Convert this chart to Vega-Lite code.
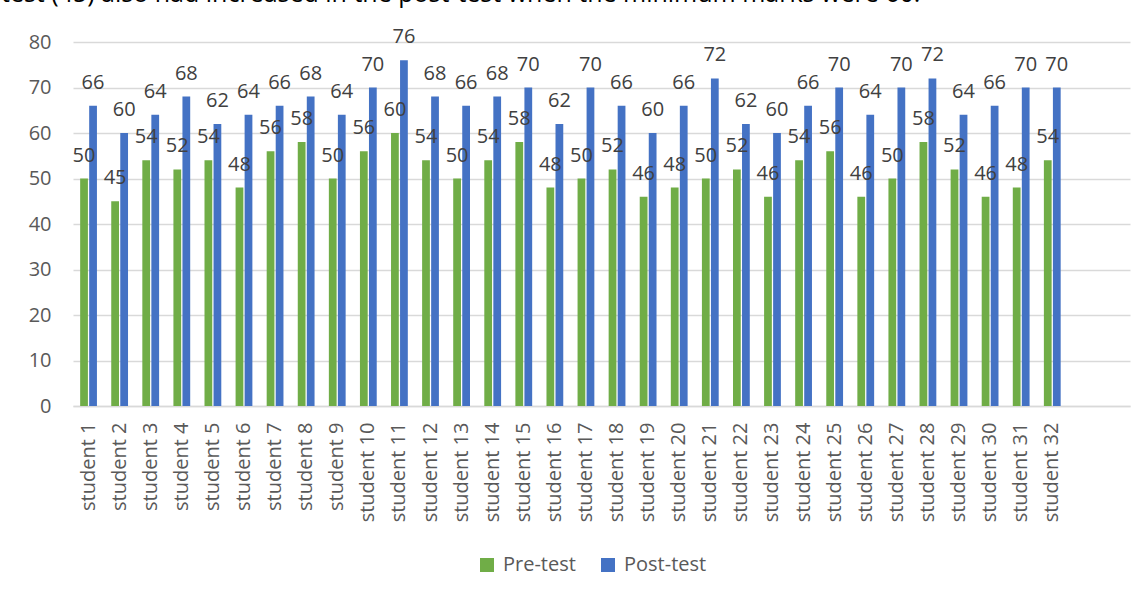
{
  "$schema": "https://vega.github.io/schema/vega-lite/v6.json",
  "width": 1057,
  "height": 364,
  "autosize": {"type": "none"},
  "padding": {"left": 73, "top": 42, "right": 16, "bottom": 192},
  "background": "white",
  "title": {
    "text": "test (45) also had increased in the post-test when the minimum marks were 60.",
    "anchor": "start",
    "frame": "group",
    "fontSize": 25,
    "font": "Open Sans",
    "fontWeight": "normal",
    "color": "#000000",
    "baseline": "alphabetic",
    "dx": -72,
    "offset": 0
  },
  "config": {
    "font": "Open Sans",
    "view": {"stroke": null}
  },
  "data": {
    "values": [
      {"student": "student 1", "test": "Pre-test", "score": 50},
      {"student": "student 2", "test": "Pre-test", "score": 45},
      {"student": "student 3", "test": "Pre-test", "score": 54},
      {"student": "student 4", "test": "Pre-test", "score": 52},
      {"student": "student 5", "test": "Pre-test", "score": 54},
      {"student": "student 6", "test": "Pre-test", "score": 48},
      {"student": "student 7", "test": "Pre-test", "score": 56},
      {"student": "student 8", "test": "Pre-test", "score": 58},
      {"student": "student 9", "test": "Pre-test", "score": 50},
      {"student": "student 10", "test": "Pre-test", "score": 56},
      {"student": "student 11", "test": "Pre-test", "score": 60},
      {"student": "student 12", "test": "Pre-test", "score": 54},
      {"student": "student 13", "test": "Pre-test", "score": 50},
      {"student": "student 14", "test": "Pre-test", "score": 54},
      {"student": "student 15", "test": "Pre-test", "score": 58},
      {"student": "student 16", "test": "Pre-test", "score": 48},
      {"student": "student 17", "test": "Pre-test", "score": 50},
      {"student": "student 18", "test": "Pre-test", "score": 52},
      {"student": "student 19", "test": "Pre-test", "score": 46},
      {"student": "student 20", "test": "Pre-test", "score": 48},
      {"student": "student 21", "test": "Pre-test", "score": 50},
      {"student": "student 22", "test": "Pre-test", "score": 52},
      {"student": "student 23", "test": "Pre-test", "score": 46},
      {"student": "student 24", "test": "Pre-test", "score": 54},
      {"student": "student 25", "test": "Pre-test", "score": 56},
      {"student": "student 26", "test": "Pre-test", "score": 46},
      {"student": "student 27", "test": "Pre-test", "score": 50},
      {"student": "student 28", "test": "Pre-test", "score": 58},
      {"student": "student 29", "test": "Pre-test", "score": 52},
      {"student": "student 30", "test": "Pre-test", "score": 46},
      {"student": "student 31", "test": "Pre-test", "score": 48},
      {"student": "student 32", "test": "Pre-test", "score": 54},
      {"student": "student 1", "test": "Post-test", "score": 66},
      {"student": "student 2", "test": "Post-test", "score": 60},
      {"student": "student 3", "test": "Post-test", "score": 64},
      {"student": "student 4", "test": "Post-test", "score": 68},
      {"student": "student 5", "test": "Post-test", "score": 62},
      {"student": "student 6", "test": "Post-test", "score": 64},
      {"student": "student 7", "test": "Post-test", "score": 66},
      {"student": "student 8", "test": "Post-test", "score": 68},
      {"student": "student 9", "test": "Post-test", "score": 64},
      {"student": "student 10", "test": "Post-test", "score": 70},
      {"student": "student 11", "test": "Post-test", "score": 76},
      {"student": "student 12", "test": "Post-test", "score": 68},
      {"student": "student 13", "test": "Post-test", "score": 66},
      {"student": "student 14", "test": "Post-test", "score": 68},
      {"student": "student 15", "test": "Post-test", "score": 70},
      {"student": "student 16", "test": "Post-test", "score": 62},
      {"student": "student 17", "test": "Post-test", "score": 70},
      {"student": "student 18", "test": "Post-test", "score": 66},
      {"student": "student 19", "test": "Post-test", "score": 60},
      {"student": "student 20", "test": "Post-test", "score": 66},
      {"student": "student 21", "test": "Post-test", "score": 72},
      {"student": "student 22", "test": "Post-test", "score": 62},
      {"student": "student 23", "test": "Post-test", "score": 60},
      {"student": "student 24", "test": "Post-test", "score": 66},
      {"student": "student 25", "test": "Post-test", "score": 70},
      {"student": "student 26", "test": "Post-test", "score": 64},
      {"student": "student 27", "test": "Post-test", "score": 70},
      {"student": "student 28", "test": "Post-test", "score": 72},
      {"student": "student 29", "test": "Post-test", "score": 64},
      {"student": "student 30", "test": "Post-test", "score": 66},
      {"student": "student 31", "test": "Post-test", "score": 70},
      {"student": "student 32", "test": "Post-test", "score": 70}
    ]
  },
  "encoding": {
    "x": {
      "field": "student",
      "type": "nominal",
      "scale": {
        "domain": ["student 1","student 2","student 3","student 4","student 5","student 6","student 7","student 8","student 9","student 10","student 11","student 12","student 13","student 14","student 15","student 16","student 17","student 18","student 19","student 20","student 21","student 22","student 23","student 24","student 25","student 26","student 27","student 28","student 29","student 30","student 31","student 32"," ","  "],
        "paddingInner": 0.46,
        "paddingOuter": 0.23
      },
      "axis": {
        "title": null,
        "labelAngle": -90,
        "labelAlign": "right",
        "labelBaseline": "middle",
        "labelFontSize": 20,
        "labelColor": "#595959",
        "labelPadding": 16,
        "ticks": false,
        "domain": true,
        "domainColor": "#D9D9D9",
        "domainWidth": 1.5,
        "grid": false
      }
    },
    "xOffset": {
      "field": "test",
      "type": "nominal",
      "sort": ["Pre-test", "Post-test"],
      "scale": {"paddingInner": 0.14, "paddingOuter": 0}
    },
    "y": {
      "field": "score",
      "type": "quantitative",
      "scale": {"domain": [0, 80], "nice": false},
      "axis": {
        "title": null,
        "values": [0,10,20,30,40,50,60,70,80],
        "labelFontSize": 20,
        "labelColor": "#595959",
        "labelPadding": 22,
        "ticks": false,
        "domain": false,
        "grid": true,
        "gridColor": "#D9D9D9",
        "gridWidth": 1.5
      }
    }
  },
  "layer": [
    {
      "mark": {"type": "bar"},
      "encoding": {
        "color": {
          "field": "test",
          "type": "nominal",
          "scale": {"domain": ["Pre-test", "Post-test"], "range": ["#70AD47", "#4472C4"]},
          "legend": {
            "title": null,
            "orient": "none",
            "legendX": 404,
            "legendY": 513,
            "direction": "horizontal",
            "symbolType": "square",
            "symbolSize": 196,
            "symbolStrokeWidth": 0,
            "labelFontSize": 20,
            "labelColor": "#595959",
            "labelOffset": 6,
            "columnPadding": 22
          }
        }
      }
    },
    {
      "mark": {"type": "text", "baseline": "alphabetic", "dy": -17, "fontSize": 20, "color": "#404040"},
      "encoding": {
        "text": {"field": "score", "type": "quantitative"}
      }
    }
  ]
}
